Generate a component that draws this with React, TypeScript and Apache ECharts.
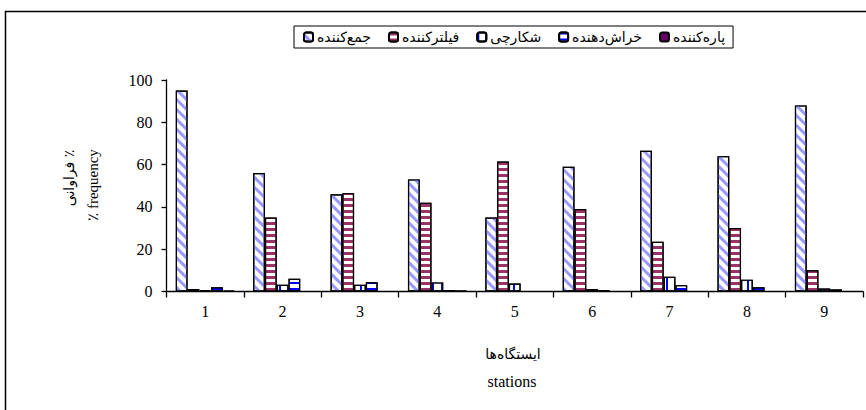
import React, { useEffect, useRef } from "react";
import * as echarts from "echarts";

const stations = ["1", "2", "3", "4", "5", "6", "7", "8", "9"];
const seriesNames = ["جمع‌کننده", "فیلترکننده", "شکارچی", "خراش‌دهنده", "پاره‌کننده"];
const jam = [95, 56, 46, 53, 35, 59, 66.5, 64, 88];
const filter = [1.2, 35, 46.5, 42, 61.5, 39, 23.5, 30, 10];
const shekarchi = [0.5, 3.2, 3.2, 4.3, 3.8, 1.2, 7, 5.6, 1.4];
const kharash = [2, 6, 4.4, 0.7, 0, 0.6, 3, 2, 1];
const pare = [0.5, 0, 0, 0.6, 0, 0, 0, 0, 0];
const yTicks = [0, 20, 40, 60, 80, 100];

const serif = "'Liberation Serif', 'Times New Roman', serif";
const persian = "'DejaVu Sans', sans-serif";

export default function App() {
  const ref = useRef<HTMLDivElement>(null);
  useEffect(() => {
    if (!ref.current) return;
    const chart = echarts.init(ref.current, undefined, { renderer: "svg" });
    const values = [jam, filter, shekarchi, kharash, pare];
    const styles: any[] = [
      {
        color: "#ffffff",
        decal: { symbol: "rect", symbolSize: 1, color: "#9999ff", dashArrayX: [1, 0], dashArrayY: [3, 4], rotation: Math.PI / 4 },
      },
      {
        color: "#ffffff",
        decal: { symbol: "rect", symbolSize: 1, color: "#993366", dashArrayX: [1, 0], dashArrayY: [2.5, 2.2], rotation: 0 },
      },
      {
        color: "#ffffff",
        decal: { symbol: "rect", symbolSize: 1, color: "#0000ff", dashArrayX: [2, 7], dashArrayY: [1, 0], rotation: 0 },
      },
      {
        color: "#ffffff",
        decal: { symbol: "rect", symbolSize: 1, color: "#0000ff", dashArrayX: [1, 0], dashArrayY: [1.5, 4], rotation: 0 },
      },
      { color: "#660066" },
    ];
    const option: any = {
      animation: false,
      backgroundColor: "#ffffff",
      legend: {
        data: seriesNames,
        left: 294,
        top: 26,
        orient: "horizontal",
        padding: [4, 8, 4, 9],
        itemWidth: 9,
        itemHeight: 9,
        itemGap: 17,
        borderColor: "#000",
        borderWidth: 1,
        textStyle: { fontFamily: persian, fontSize: 14, color: "#000", padding: [0, 0, 0, -1] },
      },
      grid: { left: 166.5, right: 3, top: 80, bottom: 118.5, containLabel: false },
      xAxis: {
        type: "category",
        data: stations,
        axisLine: { lineStyle: { color: "#000", width: 1.3 } },
        axisTick: { show: true, length: 6, lineStyle: { color: "#000", width: 1.3 }, alignWithLabel: false },
        axisLabel: { color: "#000", fontFamily: serif, fontSize: 16, margin: 12 },
        splitLine: { show: false },
      },
      yAxis: {
        type: "value",
        min: 0,
        max: 100,
        interval: 20,
        axisLine: { show: true, lineStyle: { color: "#000", width: 1.3 } },
        axisTick: { show: true, length: 5, lineStyle: { color: "#000", width: 1.3 } },
        axisLabel: {
          color: "#000",
          fontFamily: serif,
          fontSize: 16,
          margin: 14,
          formatter: (v: number) => (yTicks.includes(v) ? String(v) : ""),
        },
        splitLine: { show: false },
      },
      graphic: [
        {
          type: "rect",
          shape: { x: 5.5, y: 11.5, width: 900, height: 440 },
          style: { fill: "none", stroke: "#000", lineWidth: 1.5 },
          silent: true,
        },
        {
          type: "text",
          x: 69,
          y: 178,
          rotation: Math.PI / 2,
          style: { text: "فراوانی ٪", fontFamily: persian, fontSize: 14, fill: "#000", align: "center", verticalAlign: "middle" },
        },
        {
          type: "text",
          x: 93,
          y: 185,
          rotation: Math.PI / 2,
          style: { text: "٪ frequency", fontFamily: serif, fontSize: 15, fill: "#000", align: "center", verticalAlign: "middle" },
        },
        {
          type: "text",
          x: 513,
          y: 354,
          style: { text: "ایستگاه‌ها", fontFamily: persian, fontSize: 14, fill: "#000", align: "center", verticalAlign: "middle" },
        },
        {
          type: "text",
          x: 512,
          y: 381,
          style: { text: "stations", fontFamily: serif, fontSize: 16, fill: "#000", align: "center", verticalAlign: "middle" },
        },
      ],
      series: seriesNames.map((name, i) => ({
        name,
        type: "bar",
        data: values[i],
        barGap: "0%",
        barCategoryGap: "24%",
        itemStyle: { ...styles[i], borderColor: "#000", borderWidth: 1.2 },
        emphasis: { disabled: true },
      })),
    };
    chart.setOption(option);
    return () => chart.dispose();
  }, []);
  return (
    <div
      ref={ref}
      style={{ position: "fixed", left: 0, top: 0, width: 866, height: 410, background: "#fff" }}
    />
  );
}
